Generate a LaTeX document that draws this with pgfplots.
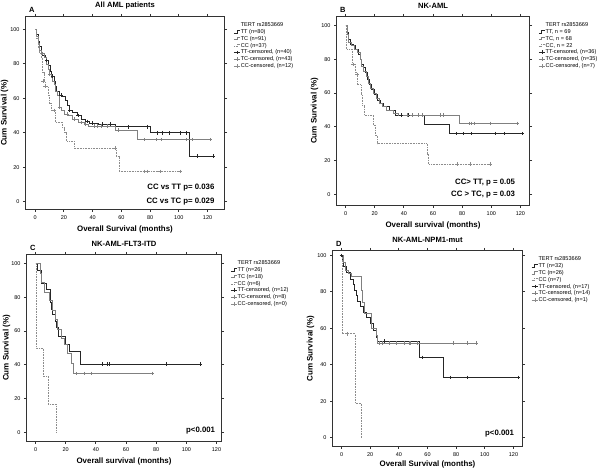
\documentclass[border=0pt]{standalone}
\usepackage{fontspec}
\setmainfont{Liberation Sans}
\usepackage{pgfplots}
\pgfplotsset{compat=1.18}

\definecolor{ttcol}{gray}{0.15}
\definecolor{tccol}{gray}{0.50}
\definecolor{cccol}{gray}{0.55}
\definecolor{framecol}{gray}{0.2}

\tikzset{
  pval/.style={anchor=east, font=\fontsize{7.8}{9}\selectfont\bfseries},
  letter/.style={anchor=south west, font=\fontsize{7.5}{9}\selectfont\bfseries},
  ylab/.style={rotate=90, font=\fontsize{8}{9}\selectfont\bfseries},
}

\pgfplotsset{
  km/.style={
    scale only axis, anchor=south west, clip=false,
    axis lines=box,
    axis line style={draw=framecol, line width=1.1pt},
    tick align=outside, major tick length=2.5pt,
    tick style={draw=framecol, line width=0.9pt},
    xtick={0,20,...,120}, ytick={0,20,...,100},
    tick label style={font=\fontsize{5.5}{6}\selectfont},
    /pgf/number format/assume math mode=true,
    label style={font=\fontsize{7.9}{9}\selectfont\bfseries},
    xlabel style={yshift=1pt},
    title style={font=\fontsize{7.6}{9}\selectfont\bfseries, yshift=-2pt},
    legend style={at={(rel axis cs:1.03,0.98)}, anchor=north west, draw=none, fill=none,
      font=\fontsize{5.6}{6}\selectfont, row sep=1.6pt,
      nodes={inner sep=0pt, text height=4.2pt, text depth=1pt}},
    legend cell align=left,
  },
  kmline/.style={const plot, mark=none, line width=0.6pt,
    legend image code/.code={\draw[##1] (0pt,-1pt) -- (3pt,-1pt) -- (3pt,1.5pt) -- (6.5pt,1.5pt);}},
  kmcens/.style={only marks, mark=+, mark size=1.8pt, line width=0.5pt,
    legend image code/.code={\draw[##1,mark=none] (0pt,0pt) -- (6.5pt,0pt);
      \draw[##1] plot coordinates {(3.25pt,0pt)};}},
}

\begin{document}
\begin{tikzpicture}
\path[use as bounding box] (0,0) rectangle (600pt,468pt);

% ---------------- A
\begin{axis}[km, at={(25.5pt,258.5pt)}, width=199pt, height=193pt,
  xmin=-6.75, xmax=131.8, ymin=-4.65, ymax=107.6,
  title={All AML patients},
  xlabel={Overall Survival (months)}]
\addlegendimage{empty legend}
\addplot[kmline, ttcol] coordinates {(0,100)(1,97)(2,93)(3,90)(4,87)(5,85)(7,84)(8,82)(9,79)(10.5,76)(11.5,73)(13,70)(14,67)(15,64)(16.5,62)(19,61)(21,59)(22.5,56)(23.5,53)(26,52)(29,50)(32,48)(35,46.5)(38,45.5)(44,45)(56,43.5)(80,40)(107,26.5)(124,26.5)};
\addplot[kmline, tccol] coordinates {(0,100)(1,96)(2,92)(3,88)(4,86)(6,84)(8,80)(9,77)(10,74)(11,72)(12,70)(13,68)(14,64)(15.5,62)(16.5,55)(18,53)(20,51)(23,50)(26,48)(30,46)(34,45)(37,44)(56,41.5)(71,36)(123,36)};
\addplot[kmline, cccol, densely dotted] coordinates {(0,100)(1,95)(2,89)(3,86)(4,84)(5,75)(6,70)(7,67)(9,62)(10,57)(11,53)(14,46)(19,43)(20,40)(22,35)(27,31)(56.5,26)(58.5,17.5)(101,17.5)};
\addplot[kmcens, ttcol] coordinates {(8,82)(12,73)(18,62)(24,53)(30,50)(36,46.5)(40,45.5)(47,45)(52,45)(65,43.5)(78,43.5)(85,40)(88.5,40)(93,40)(101,40)(105,40)(113,26.5)(124,26.5)};
\addplot[kmcens, tccol] coordinates {(5,86)(10,74)(17,55)(22,51)(27,48)(32,46)(35,45)(41,44)(43,44)(46,44)(50,44)(58,41.5)(76,36)(84,36)(88,36)(105,36)(109,36)(122,36)};
\addplot[kmcens, cccol] coordinates {(5.5,70)(7,67)(13,53)(55.5,31)(76,17.5)(78,17.5)(87,17.5)(101,17.5)};
\legend{TERT rs2853669, TT (n=80), TC (n=91), CC (n=37), {TT-censored, (n=40)}, {TC-censored, (n=43)}, {CC-censored, (n=12)}}
\node[letter] at (rel axis cs:0,1) {A};
\node[ylab] at ([xshift=-21pt]rel axis cs:0,0.5) {Cum Survival (\%)};
\node[pval] at (rel axis cs:0.967,0.1155) {CC vs TT p= 0.036};
\node[pval] at (rel axis cs:0.967,0.041) {CC vs TC p= 0.029};
\end{axis}

% ---------------- B
\begin{axis}[km, at={(336.5pt,262.5pt)}, width=193pt, height=189pt,
  xmin=-6.2, xmax=126.2, ymin=-6.5, ymax=105.3,
  title={NK-AML},
  xlabel={Overall survival (months)}]
\addlegendimage{empty legend}
\addplot[kmline, ttcol] coordinates {(0,100)(1,96)(2,92)(3,89)(5,88)(7,86)(9,83)(10,80)(11,77)(12,75)(13.5,72)(15,68)(16.5,65)(18,62)(20,59)(22,56)(24,54)(26,52)(30,50)(34,47)(54,41.5)(71,36)(121,36)};
\addplot[kmline, tccol] coordinates {(0,100)(1,95)(2,90)(4,88)(6,86)(8,84)(10,80)(11,76)(12.5,73)(14,70)(15.5,66)(17,63)(19,60)(21,57)(23,54)(25,52)(28,50)(33,48)(36,47)(78,42)(117.5,42)};
\addplot[kmline, cccol, densely dotted] coordinates {(0,100)(0.7,86)(4.5,77)(6.5,72)(8,65)(10.5,59)(11.5,53)(13,47)(19,41)(20.5,35)(22,30)(56,24)(57,18)(99,18)};
\addplot[kmcens, ttcol] coordinates {(38,47)(43,47)(76,36)(81,36)(86,36)(102.7,36)(109,36)(121,36)};
\addplot[kmcens, tccol] coordinates {(42,47)(45.6,47)(50,47)(52.5,47)(65,47)(67,47)(85,42)(86.5,42)(88,42)(99,42)(117.5,42)};
\addplot[kmcens, cccol] coordinates {(5.2,77)(8,71)(76.4,18)(85.6,18)(99,18)};
\legend{TERT rs2853669, {TT, n = 69}, {TC, n = 68}, {CC, n = 22}, {TT-censored, (n=36)}, {TC-censored, (n=35)}, {CC-censored, (n=7)}}
\node[letter] at (rel axis cs:0,1) {B};
\node[ylab] at ([xshift=-22pt]rel axis cs:0,0.5) {Cum Survival (\%)};
\node[pval] at (rel axis cs:0.943,0.122) {CC> TT, p = 0.05};
\node[pval] at (rel axis cs:0.943,0.058) {CC > TC, p = 0.03};
\end{axis}

% ---------------- C
\begin{axis}[km, at={(26.5pt,26.5pt)}, width=195pt, height=187pt,
  xmin=-6, xmax=123.3, ymin=-5.3, ymax=105.3,
  title={NK-AML-FLT3-ITD},
  xlabel={Overall survival (months)}]
\addlegendimage{empty legend}
\addplot[kmline, ttcol] coordinates {(0,100)(1.3,96)(3.5,92)(4,88.5)(7,85)(9.5,81)(10,77)(10.6,73)(11,70)(13,66)(14,62)(15,57)(20,52)(22.3,48)(29.4,40.5)(109,40.5)};
\addplot[kmline, tccol] coordinates {(0,100)(3,94)(4,89)(5.5,83)(9,78)(11,72)(13,67)(14.5,61)(17,56)(19,52)(21,47)(23.5,41)(25,35)(77.6,35)};
\addplot[kmline, cccol, densely dotted] coordinates {(0,100)(0.5,50)(5,33.3)(8.4,16.7)(13.7,0)};
\addplot[kmcens, ttcol] coordinates {(44.4,40.5)(47.3,40.5)(48.8,40.5)(86.9,40.5)(109.2,40.5)};
\addplot[kmcens, tccol] coordinates {(26.7,35)(32,35)(36.7,35)(77.6,35)};
\addlegendimage{kmcens, cccol}
\legend{TERT rs2853669, TT (n=26), TC (n=18), CC (n=6), {TT-censored, (n=12)}, {TC-censored, (n=8)}, {CC-censored, (n=0)}}
\node[letter] at (rel axis cs:0,1) {C};
\node[ylab] at ([xshift=-20pt]rel axis cs:0,0.5) {Cum Survival (\%)};
\node[pval] at (rel axis cs:0.985,0.059) {p<0.001};
\end{axis}

% ---------------- D
\begin{axis}[km, at={(332.5pt,21.5pt)}, width=190pt, height=196pt,
  xmin=-6.3, xmax=126.3, ymin=-4.9, ymax=102.7,
  title={NK-AML-NPM1-mut},
  xlabel={Overall Survival (months)}, xlabel style={yshift=1.5pt}]
\addlegendimage{empty legend}
\addplot[kmline, ttcol] coordinates {(0,100)(0.7,97)(1.5,94)(3,91)(6,87)(8,84)(9,81)(10,78)(11,75)(13,72)(15,69)(17,66)(20,63)(22,59)(24,55)(25,53)(54,44)(71,33)(123,33)};
\addplot[kmline, tccol] coordinates {(0,100)(1.4,96)(2.5,92)(5,90)(6.5,88.6)(13.5,81)(14.5,74)(15.8,68)(21,60)(24,56)(25,52)(93.7,52)};
\addplot[kmline, cccol, densely dotted] coordinates {(0,100)(0.3,57)(9.5,19)(13.7,0)};
\addplot[kmcens, ttcol] coordinates {(0,100)(30,53)(56.5,44)(76,33)(88,33)(123,33)};
\addplot[kmcens, tccol] coordinates {(26,52)(28.6,52)(33,52)(38,52)(43.7,52)(47,52)(48,52)(53,52)(78,52)(88,52)(93.7,52)};
\addplot[kmcens, cccol] coordinates {(4.2,57)};
\legend{TERT rs2853669, TT (n=32), TC (n=26), CC (n=7), {TT-censored, (n=17)}, {TC-censored, (n=14)}, {CC-censored, (n=1)}}
\node[letter] at (rel axis cs:0,1) {D};
\node[ylab] at ([xshift=-22pt]rel axis cs:0,0.5) {Cum Survival (\%)};
\node[pval] at (rel axis cs:0.974,0.066) {p<0.001};
\end{axis}
\end{tikzpicture}
\end{document}
